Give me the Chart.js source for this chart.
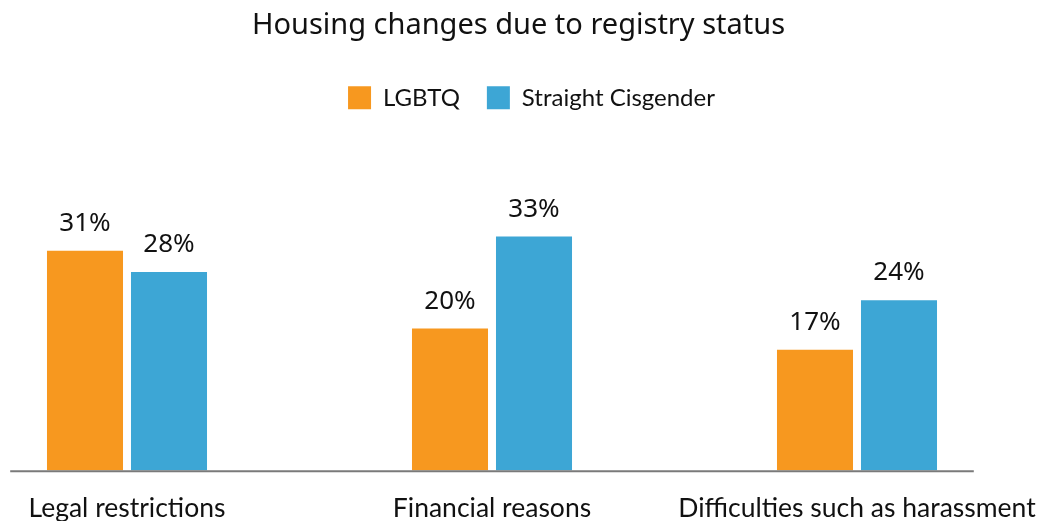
<!DOCTYPE html>
<html>
<head>
<meta charset="utf-8">
<title>Housing changes due to registry status</title>
<script src="https://cdn.jsdelivr.net/npm/chart.js@4/dist/chart.umd.min.js"></script>
<style>
    html, body { margin: 0; padding: 0; height: 521px; overflow: hidden; background: #ffffff; }
    #wrap { width: 1037px; height: 560px; position: relative; }
</style>
</head>
<body>
<div id="wrap"><canvas id="myChart"></canvas></div>
<script>
// Données du graphique
var categories = ["Legal restrictions", "Financial reasons", "Difficulties such as harassment"];
var seriesNames = ["LGBTQ", "Straight Cisgender"];
var lgbtqValues = [31, 20, 17];
var straightValues = [28, 33, 24];
var seriesColors = ["#F7981F", "#3DA6D5"];

// Plugin pour écrire les valeurs au-dessus des barres
var valueLabels = {
    id: 'valueLabels',
    afterDatasetsDraw: function(chart) {
        var ctx = chart.ctx;
        ctx.save();
        ctx.font = '26px "Noto Sans", "Open Sans", sans-serif';
        ctx.fillStyle = '#111111';
        ctx.textAlign = 'center';
        ctx.textBaseline = 'alphabetic';
        chart.data.datasets.forEach(function(ds, i) {
            chart.getDatasetMeta(i).data.forEach(function(bar, j) {
                ctx.fillText(ds.data[j] + '%', bar.x, bar.y - 20);
            });
        });
        ctx.restore();
    }
};

// Plugin pour la ligne de base (plus large que la zone des catégories)
var baseLine = {
    id: 'baseLine',
    afterDatasetsDraw: function(chart) {
        var xs = chart.scales.x;
        var y = chart.scales.y.getPixelForValue(0);
        var step = xs.getPixelForValue(1) - xs.getPixelForValue(0);
        var ctx = chart.ctx;
        ctx.save();
        ctx.strokeStyle = '#7a7a7a';
        ctx.lineWidth = 2;
        ctx.beginPath();
        ctx.moveTo(xs.getPixelForValue(0) - step * 0.32, y + 1);
        ctx.lineTo(xs.getPixelForValue(categories.length - 1) + step * 0.32, y + 1);
        ctx.stroke();
        ctx.restore();
    }
};

// Décalage de la légende pour suivre la référence
var legendShift = {
    id: 'legendShift',
    afterLayout: function(chart) {
        chart.legend.left += 13;
        chart.legend.right += 13;
    }
};

var ctx = document.getElementById('myChart').getContext('2d');
var myChart = new Chart(ctx, {
    type: 'bar',
    data: {
        labels: categories,
        datasets: [{
            label: seriesNames[0],
            data: lgbtqValues,
            backgroundColor: seriesColors[0],
            borderWidth: 0
        }, {
            label: seriesNames[1],
            data: straightValues,
            backgroundColor: seriesColors[1],
            borderWidth: 0
        }]
    },
    plugins: [valueLabels, baseLine, legendShift],
    options: {
        responsive: true,
        maintainAspectRatio: false,
        animation: false,
        datasets: {
            bar: {
                categoryPercentage: 0.4603,
                barPercentage: 0.905,
                clip: false
            }
        },
        layout: {
            padding: { top: 0, left: 0, right: 0, bottom: 14 }
        },
        plugins: {
            title: {
                display: true,
                text: 'Housing changes due to registry status',
                color: '#111111',
                font: { family: '"Noto Sans", "Open Sans", sans-serif', size: 29, weight: 'normal' },
                padding: { top: 8, bottom: 16 }
            },
            legend: {
                display: true,
                position: 'top',
                labels: {
                    boxWidth: 23,
                    boxHeight: 23,
                    padding: 27,
                    color: '#111111',
                    font: { family: 'Lato, sans-serif', size: 24 }
                }
            },
            tooltip: { enabled: false }
        },
        scales: {
            x: {
                offset: false,
                grid: { display: false, drawTicks: false },
                border: { display: false },
                ticks: {
                    color: '#111111',
                    padding: 22,
                    maxRotation: 0,
                    autoSkip: false,
                    font: { family: 'Lato, sans-serif', size: 26.5 }
                },
                // les étiquettes débordent sur les côtés, pas de marge en plus
                afterFit: function(scale) {
                    scale.paddingLeft = 0;
                    scale.paddingRight = 0;
                }
            },
            y: {
                min: 0,
                max: 49.5,
                grid: { display: false, drawTicks: false },
                border: { display: false },
                ticks: { display: false },
                afterFit: function(scale) { scale.width = 127; }
            },
            yRight: {
                position: 'right',
                grid: { display: false, drawTicks: false },
                border: { display: false },
                ticks: { display: false },
                afterFit: function(scale) { scale.width = 180; }
            }
        }
    }
});
</script>
</body>
</html>
